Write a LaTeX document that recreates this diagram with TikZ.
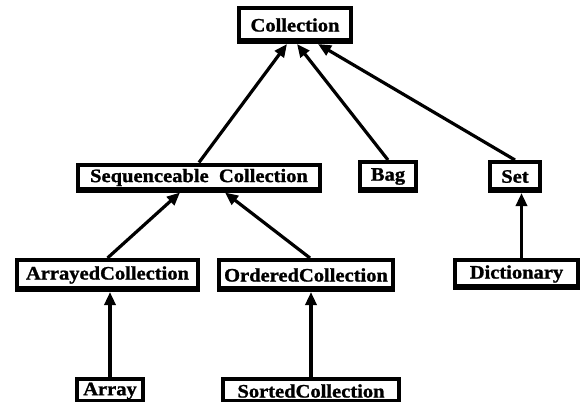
\documentclass[tikz,border=0pt]{standalone}
\usepackage{fontspec}
\setmainfont{Liberation Serif}
\newfontfamily\boxfont[FakeStretch=1.08, FakeBold=1.2]{Liberation Serif Bold}
\usetikzlibrary{arrows.meta}

\begin{document}
\begin{tikzpicture}[x=1pt, y=-1pt,
  cls/.style={draw=black, line width=4pt, fill=white, inner sep=0pt,
    font=\boxfont\fontsize{19}{19}\selectfont,
    path picture={\fill[black] ([yshift=4pt]path picture bounding box.south west)
      rectangle (path picture bounding box.south east);}},
  inherit/.style={line width=3.2pt, -{Triangle[length=13pt,width=11pt]}}]
  \useasboundingbox[fill=white] (0,0) rectangle (587,402);

  % class boxes
  \node[cls, minimum width=112pt, minimum height=34pt] (coll)  at (295,25)    {Collection};
  \node[cls, minimum width=242pt, minimum height=26pt] (seq)   at (199,177.5) {Sequenceable\ \ Collection};
  \node[cls, minimum width=56pt,  minimum height=29pt] (bag)   at (388,176.5) {Bag};
  \node[cls, minimum width=50pt,  minimum height=29pt] (set)   at (515,176.5) {Set};
  \node[cls, minimum width=181pt, minimum height=30pt] (arrd)  at (107.5,275) {ArrayedCollection};
  \node[cls, minimum width=174pt, minimum height=30pt] (ord)   at (306,275)   {OrderedCollection};
  \node[cls, minimum width=123pt, minimum height=28pt] (dict)  at (516.5,274) {Dictionary};
  \node[cls, minimum width=66pt,  minimum height=24pt] (arr)   at (110,391)   {Array};
  \node[cls, minimum width=176pt, minimum height=24pt] (sort)  at (311,391)   {SortedCollection};

  % inheritance arrows (subclass -> superclass)
  \draw[inherit] (seq.north) -- ([xshift=-8pt]coll.south);
  \draw[inherit] (bag.north) -- ([xshift=2pt]coll.south);
  \draw[inherit] (set.north) -- ([xshift=23pt]coll.south);
  \draw[inherit] (arrd.north) -- ([xshift=-19pt]seq.south);
  \draw[inherit] ([xshift=4pt]ord.north) -- ([xshift=26pt]seq.south);
  \draw[inherit] (arr.north) -- (arr.north |- arrd.south);
  \draw[inherit] (sort.north) -- (sort.north |- ord.south);
  \draw[inherit] ([xshift=5pt]dict.north) -- ([xshift=5pt]dict.north |- set.south);
\end{tikzpicture}
\end{document}
